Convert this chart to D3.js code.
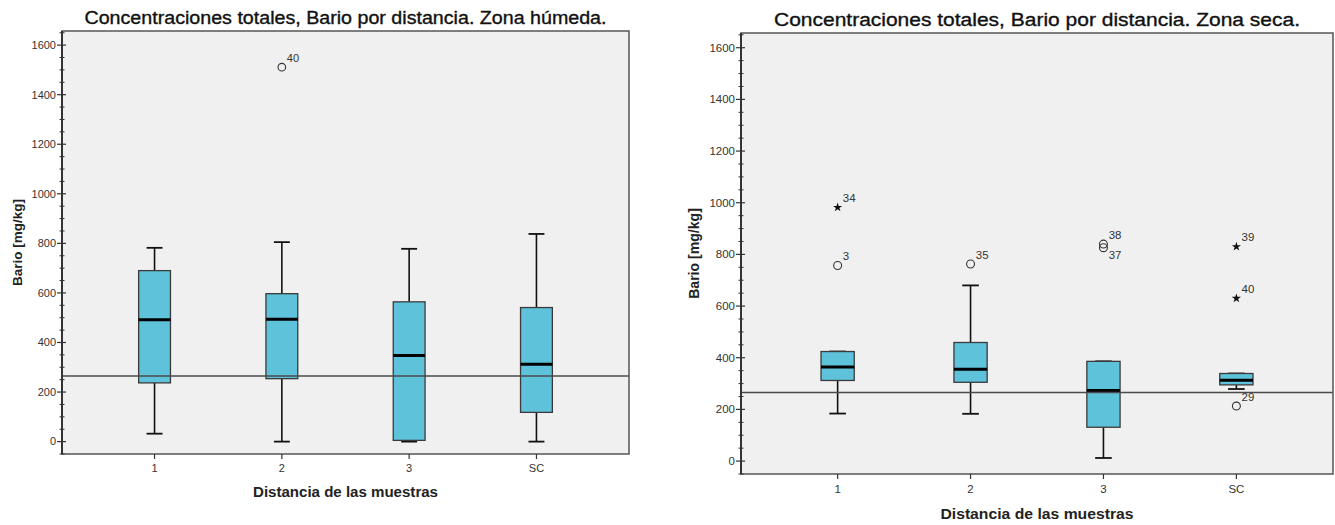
<!DOCTYPE html>
<html>
<head>
<meta charset="utf-8">
<script src="https://cdn.jsdelivr.net/npm/d3@7"></script>
<style>
  html, body { margin: 0; padding: 0; background: #ffffff; }
  svg { display: block; font-family: "Liberation Sans", Arial, sans-serif; }
</style>
</head>
<body>
<svg id="chart" width="1335" height="525"></svg>
<script>
// Categories (distance of the samples)
const categories = ["1", "2", "3", "SC"];
const yTicks = [0, 200, 400, 600, 800, 1000, 1200, 1400, 1600];
const referenceLevel = 265;

// Wet zone (Zona húmeda) box-plot statistics, mg/kg
const humedaLow    = [32, 0, 0, 0];
const humedaQ1     = [237, 254, 5, 118];
const humedaMedian = [492, 494, 347, 312];
const humedaQ3     = [690, 597, 564, 541];
const humedaHigh   = [782, 805, 778, 838];
const humedaOutliers = [
  { cat: "2", value: 1511, id: "40", kind: "circle" }
];

// Dry zone (Zona seca) box-plot statistics, mg/kg
const secaLow    = [184, 183, 12, 279];
const secaQ1     = [312, 305, 131, 295];
const secaMedian = [364, 355, 273, 313];
const secaQ3     = [424, 459, 386, 339];
const secaHigh   = [424, 680, 386, 339];
const secaOutliers = [
  { cat: "1",  value: 982, id: "34", kind: "star" },
  { cat: "1",  value: 757, id: "3",  kind: "circle" },
  { cat: "2",  value: 763, id: "35", kind: "circle" },
  { cat: "3",  value: 840, id: "38", kind: "circle" },
  { cat: "3",  value: 826, id: "37", kind: "circle" },
  { cat: "SC", value: 830, id: "39", kind: "star" },
  { cat: "SC", value: 630, id: "40", kind: "star" },
  { cat: "SC", value: 213, id: "29", kind: "circle" }
];

const svg = d3.select("#chart");

function boxData(low, q1, med, q3, high) {
  return categories.map((c, i) => ({ cat: c, low: low[i], q1: q1[i], med: med[i], q3: q3[i], high: high[i] }));
}

function drawPanel(opt) {
  const { x0, x1, y0, y1, s, title, stats, outliers } = opt;
  const g = svg.append("g");

  const x = d3.scalePoint().domain(categories).range([x0, x1]).padding(0.727);
  const y = d3.scaleLinear().domain([-50, 1657]).range([y1, y0]);
  const step = x.step();
  const boxW = step * 0.25;
  const capW = boxW * 0.5;

  // plot background
  g.append("rect")
    .attr("x", x0).attr("y", y0)
    .attr("width", x1 - x0).attr("height", y1 - y0)
    .attr("fill", "#f0f0f0");

  // boxes
  const boxes = g.selectAll("g.box").data(stats).join("g").attr("class", "box");
  boxes.append("line")
    .attr("x1", d => x(d.cat)).attr("x2", d => x(d.cat))
    .attr("y1", d => y(d.high)).attr("y2", d => y(d.q3))
    .attr("stroke", "#111").attr("stroke-width", 1.6);
  boxes.append("line")
    .attr("x1", d => x(d.cat)).attr("x2", d => x(d.cat))
    .attr("y1", d => y(d.q1)).attr("y2", d => y(d.low))
    .attr("stroke", "#111").attr("stroke-width", 1.6);
  boxes.append("line")
    .attr("x1", d => x(d.cat) - capW / 2).attr("x2", d => x(d.cat) + capW / 2)
    .attr("y1", d => y(d.high)).attr("y2", d => y(d.high))
    .attr("stroke", "#111").attr("stroke-width", 1.8);
  boxes.append("line")
    .attr("x1", d => x(d.cat) - capW / 2).attr("x2", d => x(d.cat) + capW / 2)
    .attr("y1", d => y(d.low)).attr("y2", d => y(d.low))
    .attr("stroke", "#111").attr("stroke-width", 1.8);
  boxes.append("rect")
    .attr("x", d => x(d.cat) - boxW / 2)
    .attr("y", d => y(d.q3))
    .attr("width", boxW)
    .attr("height", d => y(d.q1) - y(d.q3))
    .attr("fill", "#5fc2db")
    .attr("stroke", "#3a3a3a").attr("stroke-width", 1.3);
  boxes.append("line")
    .attr("x1", d => x(d.cat) - boxW / 2).attr("x2", d => x(d.cat) + boxW / 2)
    .attr("y1", d => y(d.med)).attr("y2", d => y(d.med))
    .attr("stroke", "#000").attr("stroke-width", 3);

  // reference line
  g.append("line")
    .attr("x1", x0).attr("x2", x1)
    .attr("y1", y(referenceLevel)).attr("y2", y(referenceLevel))
    .attr("stroke", "#4a4a4a").attr("stroke-width", 1.5);

  // outliers
  const star = d3.symbol().type(d3.symbolStar).size(24 * s * s);
  outliers.forEach((o, i) => {
    const cx = x(o.cat), cy = y(o.value);
    if (o.kind === "circle") {
      g.append("circle").attr("cx", cx).attr("cy", cy).attr("r", 3.8 * s)
        .attr("fill", "none").attr("stroke", "#333").attr("stroke-width", 1.1);
    } else {
      g.append("path").attr("d", star).attr("transform", `translate(${cx},${cy})`)
        .attr("fill", "#111");
    }
    // label goes below when a slightly higher outlier of the same group sits just above
    const crowded = outliers.some((p, j) => j !== i && p.cat === o.cat && p.value > o.value && Math.abs(y(p.value) - cy) < 10);
    g.append("text")
      .attr("x", cx + 5 * s)
      .attr("y", crowded ? cy + 11 * s : cy - 5 * s)
      .attr("font-size", 11 * s)
      .attr("fill", "#333")
      .text(o.id);
  });

  // frame
  g.append("rect")
    .attr("x", x0).attr("y", y0)
    .attr("width", x1 - x0).attr("height", y1 - y0)
    .attr("fill", "none").attr("stroke", "#555").attr("stroke-width", 1.5);
  g.append("line")
    .attr("x1", x0).attr("x2", x0).attr("y1", y0).attr("y2", y1)
    .attr("stroke", "#333").attr("stroke-width", 2);

  // y-axis: minor ticks every 50, majors every 200
  const minor = d3.range(-50, 1651, 50).filter(v => v % 200 !== 0);
  g.selectAll("line.minor").data(minor).join("line")
    .attr("x1", x0 - 2.5).attr("x2", x0 + 2.5)
    .attr("y1", d => y(d)).attr("y2", d => y(d))
    .attr("stroke", "#333").attr("stroke-width", 1);
  g.selectAll("line.major").data(yTicks).join("line")
    .attr("x1", x0 - 5).attr("x2", x0 + 4)
    .attr("y1", d => y(d)).attr("y2", d => y(d))
    .attr("stroke", "#333").attr("stroke-width", 1.2);
  g.selectAll("text.ytick").data(yTicks).join("text")
    .attr("x", x0 - 6).attr("y", d => y(d))
    .attr("dy", "0.35em")
    .attr("text-anchor", "end")
    .attr("font-size", 11 * s)
    .attr("fill", "#333")
    .text(d => d);

  // x-axis ticks and labels
  g.selectAll("line.xtick").data(categories).join("line")
    .attr("x1", d => x(d)).attr("x2", d => x(d))
    .attr("y1", y1).attr("y2", y1 + 5)
    .attr("stroke", "#333").attr("stroke-width", 1.2);
  g.selectAll("text.xtick").data(categories).join("text")
    .attr("x", d => x(d)).attr("y", y1 + 18 * s)
    .attr("text-anchor", "middle")
    .attr("font-size", 11 * s)
    .attr("fill", "#333")
    .text(d => d);

  // axis titles
  g.append("text")
    .attr("x", (x0 + x1) / 2).attr("y", y1 + 43 * s)
    .attr("text-anchor", "middle")
    .attr("font-size", 14.5 * s).attr("font-weight", "bold")
    .attr("textLength", 185 * s).attr("lengthAdjust", "spacingAndGlyphs")
    .attr("fill", "#222")
    .text("Distancia de las muestras");
  g.append("text")
    .attr("transform", `translate(${x0 - 40 * s},${(y0 + y1) / 2}) rotate(-90)`)
    .attr("text-anchor", "middle")
    .attr("font-size", 13.5 * s).attr("font-weight", "bold")
    .attr("fill", "#222")
    .text("Bario [mg/kg]");

  // chart title
  g.append("text")
    .attr("x", (x0 + x1) / 2).attr("y", y0 - 7 * s)
    .attr("text-anchor", "middle")
    .attr("font-size", 17.5 * s)
    .attr("textLength", opt.titleWidth).attr("lengthAdjust", "spacingAndGlyphs")
    .attr("fill", "#111")
    .attr("stroke", "#111").attr("stroke-width", 0.35)
    .text(title);
}

drawPanel({
  x0: 62, x1: 629, y0: 31, y1: 454, s: 1, titleWidth: 522,
  title: "Concentraciones totales, Bario por distancia. Zona húmeda.",
  stats: boxData(humedaLow, humedaQ1, humedaMedian, humedaQ3, humedaHigh),
  outliers: humedaOutliers
});

drawPanel({
  x0: 741, x1: 1333, y0: 33, y1: 474, s: 1.044, titleWidth: 526,
  title: "Concentraciones totales, Bario por distancia. Zona seca.",
  stats: boxData(secaLow, secaQ1, secaMedian, secaQ3, secaHigh),
  outliers: secaOutliers
});
</script>
</body>
</html>
